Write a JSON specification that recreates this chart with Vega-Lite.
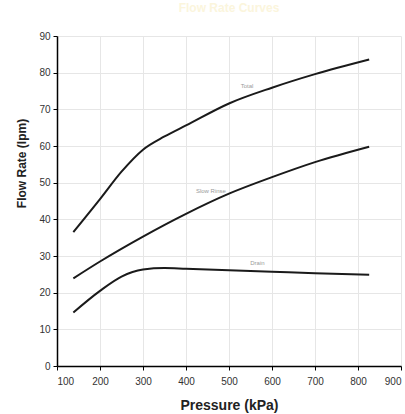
{
  "$schema": "https://vega.github.io/schema/vega-lite/v6.json",
  "autosize": {"type": "none"},
  "padding": {"left": 57, "top": 36, "right": 4, "bottom": 48},
  "width": 344,
  "height": 330,
  "background": "white",
  "config": {
    "view": {"stroke": null},
    "font": "Liberation Sans"
  },
  "title": {"text": "Flow Rate Curves", "color": "#fbf5dc", "fontSize": 12, "fontWeight": "bold", "offset": 16, "anchor": "middle"},
  "datasets": {
    "curves": [
      {"series": "Total", "p": 138, "f": 36.5},
      {"series": "Total", "p": 200, "f": 45.5},
      {"series": "Total", "p": 250, "f": 53},
      {"series": "Total", "p": 300, "f": 59},
      {"series": "Total", "p": 350, "f": 62.6},
      {"series": "Total", "p": 400, "f": 65.6},
      {"series": "Total", "p": 500, "f": 71.6},
      {"series": "Total", "p": 600, "f": 75.9},
      {"series": "Total", "p": 700, "f": 79.6},
      {"series": "Total", "p": 826, "f": 83.6},
      {"series": "Slow Rinse", "p": 138, "f": 23.9},
      {"series": "Slow Rinse", "p": 200, "f": 28.5},
      {"series": "Slow Rinse", "p": 300, "f": 35.3},
      {"series": "Slow Rinse", "p": 400, "f": 41.5},
      {"series": "Slow Rinse", "p": 500, "f": 47},
      {"series": "Slow Rinse", "p": 600, "f": 51.5},
      {"series": "Slow Rinse", "p": 700, "f": 55.6},
      {"series": "Slow Rinse", "p": 826, "f": 59.8},
      {"series": "Drain", "p": 138, "f": 14.6},
      {"series": "Drain", "p": 200, "f": 20.5},
      {"series": "Drain", "p": 250, "f": 24.4},
      {"series": "Drain", "p": 300, "f": 26.3},
      {"series": "Drain", "p": 350, "f": 26.7},
      {"series": "Drain", "p": 400, "f": 26.5},
      {"series": "Drain", "p": 500, "f": 26.1},
      {"series": "Drain", "p": 600, "f": 25.7},
      {"series": "Drain", "p": 700, "f": 25.3},
      {"series": "Drain", "p": 826, "f": 24.9}
    ],
    "labels": [
      {"series": "Total", "p": 542, "f": 76.3},
      {"series": "Slow Rinse", "p": 458, "f": 47.6},
      {"series": "Drain", "p": 566, "f": 28.2}
    ]
  },
  "encoding": {
    "x": {
      "field": "p", "type": "quantitative",
      "scale": {"domain": [100, 900], "nice": false, "zero": false},
      "axis": {
        "values": [100, 200, 300, 400, 500, 600, 700, 800, 900],
        "title": "Pressure (kPa)",
        "titleFontSize": 14, "titleFontWeight": "bold", "titleColor": "#222",
        "titleBaseline": "alphabetic", "titleY": 43,
        "labelFontSize": 10, "labelColor": "#333", "labelPadding": 6,
        "domainColor": "#000", "domainWidth": 1.5,
        "tickColor": "#000", "tickSize": 4,
        "gridColor": "#e6e6e6", "gridWidth": 1
      }
    },
    "y": {
      "field": "f", "type": "quantitative",
      "scale": {"domain": [0, 90], "nice": false},
      "axis": {
        "values": [0, 10, 20, 30, 40, 50, 60, 70, 80, 90],
        "labelOverlap": false,
        "title": "Flow Rate (lpm)",
        "titleFontSize": 12, "titleFontWeight": "bold", "titleColor": "#222",
        "titleX": -36, "titleY": 127, "titleAngle": 270, "titleAlign": "center", "titleBaseline": "middle",
        "labelFontSize": 10, "labelColor": "#333", "labelPadding": 3,
        "domainColor": "#000", "domainWidth": 1.5,
        "tickColor": "#000", "tickSize": 4,
        "gridColor": "#e6e6e6", "gridWidth": 1
      }
    }
  },
  "layer": [
    {
      "data": {"name": "curves"},
      "mark": {"type": "line", "interpolate": "monotone", "color": "#1a1a1a", "strokeWidth": 2},
      "encoding": {
        "detail": {"field": "series", "type": "nominal"}
      }
    },
    {
      "data": {"name": "labels"},
      "mark": {"type": "text", "fontSize": 6, "color": "#9a9a9a", "align": "center", "baseline": "middle"},
      "encoding": {
        "text": {"field": "series", "type": "nominal"}
      }
    }
  ]
}
